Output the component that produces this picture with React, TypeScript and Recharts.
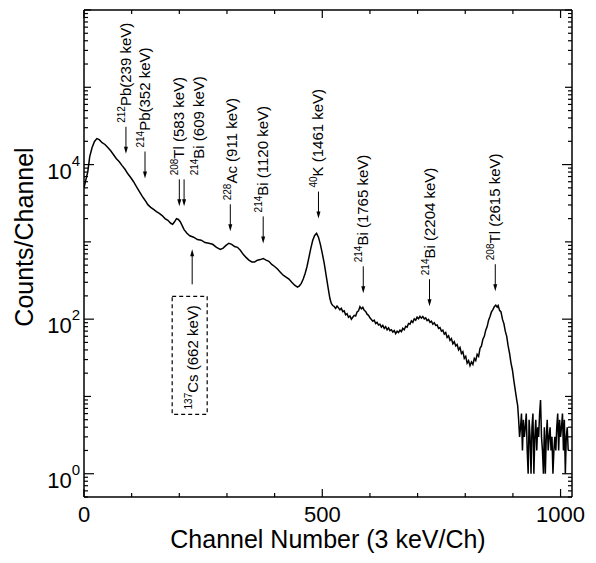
import React from 'react';
import { LineChart, Line, XAxis, YAxis, ReferenceDot } from 'recharts';

const FONT = '"Liberation Sans", Arial, Helvetica, sans-serif';

// Spectrum: channel numbers and counts per channel
const spectrumChannels = [
  0, 4, 8, 12, 17, 22, 27, 32, 38, 44, 50, 56, 62, 68, 74, 80, 86, 92, 98, 104,
  110, 116, 122, 128, 134, 140, 146, 152, 158, 164, 170, 176, 182, 186, 190, 194, 198, 202, 206, 210,
  216, 222, 230, 238, 246, 254, 262, 270, 278, 286, 292, 298, 304, 310, 316, 322, 328, 334, 340, 346,
  352, 358, 364, 370, 376, 382, 388, 394, 400, 406, 412, 418, 424, 430, 436, 442, 448, 452, 456, 460,
  464, 468, 472, 476, 480, 484, 488, 492, 496, 500, 504, 508, 512,
  516, 519, 522, 525, 528, 531, 534, 537, 540, 543, 546, 549, 552, 555, 558, 561, 564, 567, 570, 573,
  576, 579, 582, 585, 588, 591, 594, 597, 600, 603, 606, 609, 612, 615, 618, 621, 624, 627, 630, 633,
  636, 639, 642, 645, 648, 651, 654, 657, 660, 663, 666, 669, 672, 675, 678, 681, 684, 687, 690, 693,
  696, 699, 702, 705, 708, 711, 714, 717, 720, 723, 726, 729, 732, 735, 738, 741, 744, 747, 750, 753,
  756, 759, 762, 765, 768, 771, 774, 777, 780, 783, 786, 789, 792, 795, 798, 801, 804, 807, 810, 813,
  816, 819, 822, 825, 828, 831, 834, 837, 840, 843, 846, 849, 852, 855, 858, 861, 864, 867, 869, 872,
  875, 878, 881, 884, 887, 890, 893, 896, 899, 902, 905, 908, 910,
  912, 914, 916, 918, 920, 922, 924, 926, 928, 930, 932, 934, 936, 938, 940, 942, 944, 946, 948, 950,
  952, 954, 956, 958, 960, 962, 964, 966, 968, 970, 972, 974, 976, 978, 980, 982, 984, 986, 988, 990,
  992, 994, 996, 998, 1000, 1002, 1004, 1006, 1008, 1010, 1012, 1014, 1016,
];
const spectrumCounts = [
  5000, 6400, 8100, 12700, 16600, 19900, 21700, 21000, 19200, 18200, 16600, 15100, 13400, 11900, 10900, 9700, 8700, 7600, 6800, 6000,
  5200, 4500, 3900, 3460, 3030, 2800, 2630, 2460, 2340, 2190, 2000, 1900, 1740, 1690, 1820, 2000, 1950, 1820, 1620, 1440,
  1290, 1200, 1150, 1070, 1050, 980, 960, 930, 850, 800, 830, 900, 960, 930, 870, 850, 780, 690, 630, 580,
  550, 550, 580, 590, 610, 580, 560, 510, 480, 445, 405, 370, 350, 330, 300, 275, 260, 270, 290, 330,
  390, 480, 630, 830, 1050, 1210, 1290, 1150, 930, 710, 530, 370, 260,
  185, 160, 150, 146, 138, 148, 140, 132, 138, 125, 128, 114, 118, 106, 110, 100, 106, 112, 110, 124,
  128, 145, 136, 142, 130, 126, 116, 112, 104, 99, 94, 97, 88, 91, 84, 86, 79, 83, 76, 80,
  73, 77, 71, 73, 68, 71, 65, 70, 67, 72, 69, 76, 73, 81, 79, 88, 86, 95, 91, 101,
  97, 106, 101, 109, 103, 108, 101, 104, 96, 99, 91, 94, 86, 90, 83, 84, 76, 78, 70, 72,
  64, 67, 58, 61, 53, 56, 48, 51, 45, 47, 40, 43, 36, 38, 31, 33, 27, 29, 25, 28,
  26, 31, 29, 35, 33, 42, 45, 55, 60, 72, 80, 97, 108, 124, 133, 145, 152, 143, 150, 130,
  124, 100, 88, 70, 60, 45, 36, 27, 22, 16, 12, 9, 7.6,
  5, 3, 4, 6, 2, 5, 3, 4, 6, 2, 1, 5, 3, 1, 4, 6, 1, 3, 5, 2,
  4, 3, 6, 9, 3, 2, 1, 4, 1, 3, 5, 2, 3, 4, 2, 3, 1, 2, 3, 2,
  4, 6, 2, 5, 3, 4, 6, 2, 5, 1, 3, 4, 2,
];

const data = spectrumChannels.map((ch, i) => ({ ch, counts: spectrumCounts[i] }));

// Axis ticks
const xTicks = [0, 100, 200, 300, 400, 500, 600, 700, 800, 900, 1000];
const xTickLabels = ['0', '500', '1000'];
const yDecades = [0.1, 1, 10, 100, 1000, 10000, 100000, 1000000];
const yLabelExponents = [0, 2, 4];
const yTicks = yDecades
  .flatMap((d) => [1, 2, 3, 4, 5, 6, 7, 8, 9].map((m) => m * d))
  .filter((v) => v >= 0.5 && v <= 1000000);

// Peak annotations
const annMass = ['212', '214', '208', '214', '228', '214', '40', '214', '214', '208'];
const annName = ['Pb(239 keV)', 'Pb(352 keV)', 'Tl (583 keV)', 'Bi (609 keV)', 'Ac (911 keV)', 'Bi (1120 keV)', 'K (1461 keV)', 'Bi (1765 keV)', 'Bi (2204 keV)', 'Tl (2615 keV)'];
const annChannel = [88, 128, 200, 210, 307, 376, 492, 586, 725, 863];
const annTip = [13800, 6600, 2880, 2880, 1370, 955, 2000, 216, 147, 230];
const annTextShift = [0, 0, 0, 15, 2, 0, 0, 0, 0, 0];

const csMass = '137';
const csName = 'Cs (662 keV)';
const csChannel = 227;
const csTip = 800;

const LeftTick = (props: any) => {
  const { x, y, payload } = props;
  const v = payload.value;
  const lg = Math.log10(v);
  const exp = Math.round(lg);
  const isDecade = Math.abs(lg - exp) < 1e-6;
  const labeled = isDecade && yLabelExponents.includes(exp);
  const len = labeled ? 10 : isDecade ? 7 : 4;
  return (
    <g>
      <line x1={x} x2={x + len} y1={y} y2={y} stroke="#000" strokeWidth={1.2} />
      {labeled && (
        <text x={x - 4} y={y + 14} textAnchor="end" fontSize={22} fontFamily={FONT} fill="#000">
          10
          <tspan fontSize={15} dy={-13}>{String(exp)}</tspan>
        </text>
      )}
    </g>
  );
};

const RightTick = (props: any) => {
  const { x, y, payload } = props;
  const v = payload.value;
  const lg = Math.log10(v);
  const exp = Math.round(lg);
  const isDecade = Math.abs(lg - exp) < 1e-6;
  const labeled = isDecade && yLabelExponents.includes(exp);
  const len = labeled ? 10 : isDecade ? 7 : 4;
  return <line x1={x} x2={x - len} y1={y} y2={y} stroke="#000" strokeWidth={1.2} />;
};

const BottomTick = (props: any) => {
  const { x, y, payload } = props;
  const label = String(payload.value);
  const major = xTickLabels.includes(label);
  return (
    <g>
      <line x1={x} x2={x} y1={y} y2={y - (major ? 8 : 4)} stroke="#000" strokeWidth={1.2} />
      {major && (
        <text x={x} y={y + 25} textAnchor="middle" fontSize={22} fontFamily={FONT} fill="#000">
          {label}
        </text>
      )}
    </g>
  );
};

const TopTick = (props: any) => {
  const { x, y, payload } = props;
  const major = xTickLabels.includes(String(payload.value));
  return <line x1={x} x2={x} y1={y} y2={y + (major ? 8 : 4)} stroke="#000" strokeWidth={1.2} />;
};

const DownArrow = ({ cx, cy, mass, name, shift }: any) => (
  <g>
    <line x1={cx} x2={cx} y1={cy - 27} y2={cy - 5} stroke="#000" strokeWidth={1} />
    <path d={`M${cx - 2},${cy - 7} L${cx + 2},${cy - 7} L${cx},${cy} Z`} fill="#000" />
    <text
      transform={`translate(${cx + 5 + shift},${cy - 31}) rotate(-90)`}
      fontSize={15}
      fontFamily={FONT}
      fill="#000"
    >
      <tspan fontSize={10} dy={-6}>{mass}</tspan>
      <tspan dy={6}>{name}</tspan>
    </text>
  </g>
);

const CsMarker = ({ cx, cy }: any) => (
  <g>
    <line x1={cx} x2={cx} y1={cy + 35} y2={cy + 5} stroke="#000" strokeWidth={1} />
    <path d={`M${cx - 2},${cy + 7} L${cx + 2},${cy + 7} L${cx},${cy} Z`} fill="#000" />
    <rect x={cx - 20} y={cy + 47} width={35} height={118} fill="none" stroke="#000" strokeWidth={1.2} strokeDasharray="4 3" />
    <text
      transform={`translate(${cx + 5.5},${cy + 108}) rotate(-90)`}
      textAnchor="middle"
      fontSize={15}
      fontFamily={FONT}
      fill="#000"
    >
      <tspan fontSize={10} dy={-6}>{csMass}</tspan>
      <tspan dy={6}>{csName}</tspan>
    </text>
  </g>
);

export default function App() {
  return (
    <div style={{ position: 'fixed', left: 0, top: 0, width: 596, height: 563, background: '#fff' }}>
      <LineChart width={596} height={563} data={data} margin={{ top: 0, right: 0, bottom: 0, left: 0 }}>
        <XAxis
          dataKey="ch"
          type="number"
          domain={[0, 1024]}
          allowDataOverflow
          ticks={xTicks}
          interval={0}
          height={66}
          tickSize={0}
          tickMargin={0}
          tickLine={false}
          axisLine={{ stroke: '#000', strokeWidth: 1.5 }}
          tick={<BottomTick />}
          label={{
            value: 'Channel Number (3 keV/Ch)',
            position: 'insideBottom',
            offset: 15,
            fontSize: 25,
            fontFamily: FONT,
            fill: '#000',
          }}
        />
        <XAxis
          xAxisId="top"
          dataKey="ch"
          orientation="top"
          type="number"
          domain={[0, 1024]}
          allowDataOverflow
          ticks={xTicks}
          interval={0}
          height={10}
          tickSize={0}
          tickMargin={0}
          tickLine={false}
          axisLine={{ stroke: '#000', strokeWidth: 1.5 }}
          tick={<TopTick />}
        />
        <YAxis
          scale="log"
          type="number"
          domain={[0.5, 1000000]}
          allowDataOverflow
          ticks={yTicks}
          interval={0}
          width={84}
          tickSize={0}
          tickMargin={0}
          tickLine={false}
          axisLine={{ stroke: '#000', strokeWidth: 1.5 }}
          tick={<LeftTick />}
          label={{
            content: () => (
              <text
                transform="translate(33,237) rotate(-90)"
                textAnchor="middle"
                fontSize={25}
                fontFamily={FONT}
                fill="#000"
              >
                Counts/Channel
              </text>
            ),
          }}
        />
        <YAxis
          yAxisId="right"
          orientation="right"
          scale="log"
          type="number"
          domain={[0.5, 1000000]}
          allowDataOverflow
          ticks={yTicks}
          interval={0}
          width={24}
          tickSize={0}
          tickMargin={0}
          tickLine={false}
          axisLine={{ stroke: '#000', strokeWidth: 1.5 }}
          tick={<RightTick />}
        />
        <Line
          type="linear"
          dataKey="counts"
          stroke="#000"
          strokeWidth={1.5}
          dot={false}
          isAnimationActive={false}
        />
        {annChannel.map((ch, i) => (
          <ReferenceDot
            key={i}
            x={ch}
            y={annTip[i]}
            r={0}
            shape={(p: any) => (
              <DownArrow cx={p.cx} cy={p.cy} mass={annMass[i]} name={annName[i]} shift={annTextShift[i]} />
            )}
          />
        ))}
        <ReferenceDot x={csChannel} y={csTip} r={0} shape={(p: any) => <CsMarker cx={p.cx} cy={p.cy} />} />
      </LineChart>
    </div>
  );
}
